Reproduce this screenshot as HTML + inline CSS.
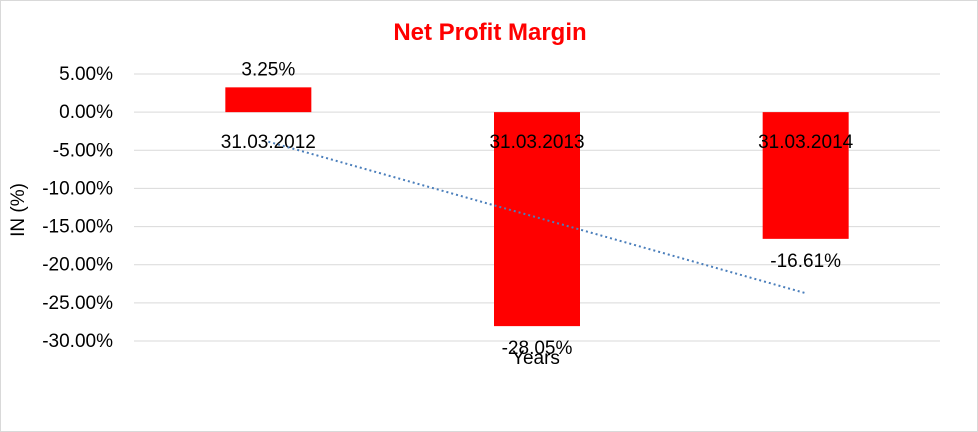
<!DOCTYPE html>
<html><head><meta charset="utf-8"><style>
body{margin:0;background:#fff}
svg{display:block;font-family:"Liberation Sans",Arial,sans-serif}
</style></head><body>
<svg id="chart" width="978" height="432">
<rect x="0.5" y="0.5" width="977" height="431" fill="#fff" stroke="#d9d9d9"/>
<text x="490" y="40" text-anchor="middle" font-size="24" font-weight="bold" fill="#ff0000">Net Profit Margin</text>
<text transform="translate(24,210) rotate(-90)" text-anchor="middle" font-size="19" fill="#000">IN (%)</text>
<text x="536" y="364" text-anchor="middle" font-size="19" fill="#000">Years</text>
<g id="grid"></g><g id="bars"></g><g id="labels"></g>
</svg>
<script>
const categories=["31.03.2012","31.03.2013","31.03.2014"];
const values=[3.25,-28.05,-16.61];
const valueLabels=["3.25%","-28.05%","-16.61%"];
const ticks=[5,0,-5,-10,-15,-20,-25,-30];
const tickLabels=["5.00%","0.00%","-5.00%","-10.00%","-15.00%","-20.00%","-25.00%","-30.00%"];
const NS="http://www.w3.org/2000/svg";
const x0=134,x1=940,yTop=74,yBot=341,vMax=5,vMin=-30;
function y(v){return yTop+(vMax-v)/(vMax-vMin)*(yBot-yTop);}
function xc(i){return x0+(i+0.5)*(x1-x0)/categories.length;}
function mk(t,a,p){const e=document.createElementNS(NS,t);for(const k in a)e.setAttribute(k,a[k]);p.appendChild(e);return e;}
const grid=document.getElementById('grid'),bars=document.getElementById('bars'),labels=document.getElementById('labels');
ticks.forEach((t,i)=>{
 const l=mk('line',{x1:x0,x2:x1,y1:y(t),y2:y(t),stroke:'#d9d9d9','stroke-width':1},grid);
 
 
 const tx=mk('text',{x:x0-21,y:y(t)+6,'text-anchor':'end','font-size':19,fill:'#000'},grid);
 tx.textContent=tickLabels[i];
 
 
});
const bw=86;
values.forEach((v,i)=>{
 const r=mk('rect',{x:xc(i)-bw/2,y:Math.min(y(v),y(0)),width:bw,height:Math.abs(y(v)-y(0)),fill:'#ff0000'},bars);
 
 
 const vl=mk('text',{x:xc(i),y:v>=0?y(v)-12:y(v)+28,'text-anchor':'middle','font-size':19,fill:'#000'},labels);
 vl.textContent=valueLabels[i];
 
 
 const cl=mk('text',{x:xc(i),y:y(0)+36,'text-anchor':'middle','font-size':19,fill:'#000'},labels);
 cl.textContent=categories[i];
 
 
});
const n=values.length,xs=values.map((_,i)=>i+1);
const mx=xs.reduce((a,b)=>a+b)/n,my=values.reduce((a,b)=>a+b)/n;
let num=0,den=0;xs.forEach((xv,i)=>{num+=(xv-mx)*(values[i]-my);den+=(xv-mx)**2;});
const slope=num/den,icp=my-slope*mx;
const tl=mk('line',{x1:xc(0),y1:y(icp+slope*1),x2:xc(n-1),y2:y(icp+slope*n),stroke:'#4a7ebb','stroke-width':2,'stroke-dasharray':'2,3'},labels);


</script>
</body></html>
